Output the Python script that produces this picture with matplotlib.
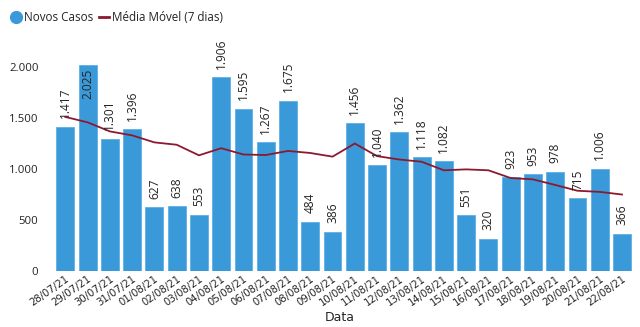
import matplotlib
matplotlib.use("Agg")
import matplotlib.pyplot as plt
from matplotlib.lines import Line2D
from matplotlib.ticker import FuncFormatter

# dados
datas = ["28/07/21", "29/07/21", "30/07/21", "31/07/21", "01/08/21", "02/08/21",
         "03/08/21", "04/08/21", "05/08/21", "06/08/21", "07/08/21", "08/08/21",
         "09/08/21", "10/08/21", "11/08/21", "12/08/21", "13/08/21", "14/08/21",
         "15/08/21", "16/08/21", "17/08/21", "18/08/21", "19/08/21", "20/08/21",
         "21/08/21", "22/08/21"]
novos_casos = [1417, 2025, 1301, 1396, 627, 638, 553, 1906, 1595, 1267, 1675, 484,
               386, 1456, 1040, 1362, 1118, 1082, 551, 320, 923, 953, 978, 715,
               1006, 366]
media_movel = [1514, 1461, 1372, 1333, 1264, 1241, 1137, 1207, 1145, 1140, 1180, 1160,
               1124, 1253, 1129, 1096, 1074, 990, 999, 990, 914, 901, 846, 789,
               778, 752]

COR_BARRA = "#3a9ad9"
COR_LINHA = "#8b1a2e"
COR_TEXTO = "#252423"

plt.rcParams["font.family"] = ["Open Sans", "DejaVu Sans"]


def _milhar(v, pos=None):
    # separador de milhar com ponto
    return f"{int(v):,}".replace(",", ".")


fig = plt.figure(figsize=(6.4, 3.27), dpi=100)
ax = fig.add_axes([0.084, 0.171, 0.907, 0.713])

x = range(len(datas))
bars = ax.bar(x, novos_casos, width=0.8, color=COR_BARRA,
              edgecolor="#5fb0e6", linewidth=0.6, zorder=2)
ax.plot(x, media_movel, color=COR_LINHA, linewidth=1.3, zorder=3)

ax.set_xlim(-0.52, len(datas) - 0.45)
ax.set_ylim(0, 2290)
ax.set_yticks([0, 500, 1000, 1500, 2000])
ax.yaxis.set_major_formatter(FuncFormatter(_milhar))

# rótulos de dados verticais
for bar, v in zip(bars, novos_casos):
    cx = bar.get_x() + bar.get_width() / 2
    if v > 2000:
        ax.annotate(_milhar(v), (cx, v), xytext=(0, -3), textcoords="offset points",
                    rotation=90, ha="center", va="top", fontsize=8.6,
                    color=COR_TEXTO, zorder=4)
    else:
        ax.annotate(_milhar(v), (cx, v), xytext=(0, 6), textcoords="offset points",
                    rotation=90, ha="center", va="bottom", fontsize=8.6,
                    color=COR_TEXTO, zorder=4)

ax.set_xticks(list(x))
ax.set_xticklabels(datas, rotation=35, ha="right", rotation_mode="anchor",
                   fontsize=7.3, color=COR_TEXTO,
                   family=["Liberation Sans Narrow", "DejaVu Sans"])
ax.tick_params(axis="x", length=0, pad=2)
ax.tick_params(axis="y", length=0, pad=11, labelsize=8.2, labelcolor=COR_TEXTO)

# título do eixo x em posição fixa, abaixo das datas
fig.text(0.531, 0.008, "Data", ha="center", va="bottom", fontsize=9,
         color=COR_TEXTO, family=["Liberation Sans Narrow", "DejaVu Sans"])

for s in ax.spines.values():
    s.set_visible(False)

# legenda no topo à esquerda
handles = [
    Line2D([0], [0], marker="o", color="none", markerfacecolor=COR_BARRA,
           markeredgecolor=COR_BARRA, markersize=8.5),
    Line2D([0], [0], color=COR_LINHA, linewidth=2),
]
fig.legend(handles, ["Novos Casos", "Média Móvel (7 dias)"], loc="upper left",
           bbox_to_anchor=(0.0, 1.0), ncol=2, frameon=False, fontsize=8.4,
           handlelength=0.9, handletextpad=0.2, columnspacing=0.5,
           borderaxespad=0.55, labelcolor=COR_TEXTO)

plt.savefig("out.png", dpi=100)
plt.close()
